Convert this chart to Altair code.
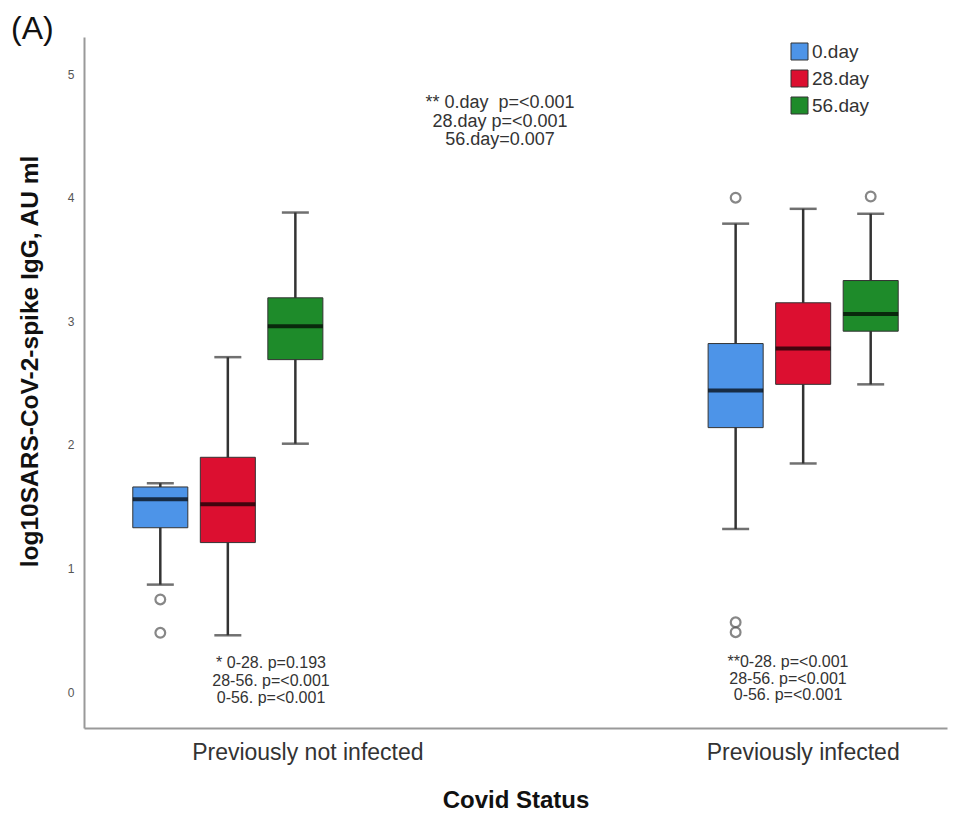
import altair as alt
import pandas as pd

groups = ["Previously not infected", "Previously infected"]
series = ["0.day", "28.day", "56.day"]
colors = ["#4d94e8", "#dc0f30", "#1e8b2a"]

box_group = ["Previously not infected"] * 3 + ["Previously infected"] * 3
box_day = ["0.day", "28.day", "56.day"] * 2
q1 = [1.33, 1.21, 2.69, 2.14, 2.49, 2.92]
median = [1.56, 1.52, 2.96, 2.44, 2.78, 3.06]
q3 = [1.66, 1.90, 3.19, 2.82, 3.15, 3.33]
whisker_low = [0.87, 0.46, 2.01, 1.32, 1.85, 2.49]
whisker_high = [1.69, 2.71, 3.88, 3.79, 3.91, 3.87]

out_group = ["Previously not infected", "Previously not infected",
             "Previously infected", "Previously infected", "Previously infected",
             "Previously infected"]
out_day = ["0.day", "0.day", "0.day", "0.day", "0.day", "56.day"]
out_value = [0.75, 0.48, 4.00, 0.565, 0.485, 4.01]

top_note = ["** 0.day\u00a0\u00a0p=<0.001", "28.day p=<0.001", "56.day=0.007"]
note_not_inf = ["* 0-28. p=0.193", "28-56. p=<0.001", "0-56. p=<0.001"]
note_inf = ["**0-28. p=<0.001", "28-56. p=<0.001", "0-56. p=<0.001"]

FONT = "Liberation Sans"

boxes_df = pd.DataFrame({
    "group": box_group, "day": box_day, "q1": q1, "median": median,
    "q3": q3, "low": whisker_low, "high": whisker_high,
})
out_df = pd.DataFrame({"group": out_group, "day": out_day, "value": out_value})

yscale = alt.Scale(domain=[-0.29, 5.3], nice=False, zero=False)
xscale = alt.Scale(domain=groups, paddingInner=0.5, paddingOuter=0)
xoff = alt.XOffset("day:N", scale=alt.Scale(domain=series, paddingInner=0.185, paddingOuter=0.7225))

xaxis = alt.Axis(
    title="Covid Status", labelAngle=0, ticks=False, grid=False,
    domainColor="#999", domainWidth=2, labelLimit=0,
    labelFont=FONT, labelFontSize=23, labelColor="#333", labelPadding=13,
    labelOffset=alt.condition("datum.value == 'Previously not infected'", alt.value(80), alt.value(0)),
    titleFont=FONT, titleFontSize=24, titleFontWeight="bold", titleColor="#111",
    titlePadding=24,
)
yaxis = alt.Axis(
    title="log10SARS-CoV-2-spike IgG, AU ml", values=[0, 1, 2, 3, 4, 5], format="d",
    ticks=False, grid=False, domainColor="#999", domainWidth=2,
    labelFont=FONT, labelFontSize=12, labelColor="#555", labelPadding=10,
    titleFont=FONT, titleFontSize=24.5, titleFontWeight="bold", titleColor="#111",
    titleX=-54, titleY=324, titleBaseline="middle", titleAlign="center", titleAngle=-90,
)

base = alt.Chart(boxes_df).encode(
    x=alt.X("group:N", sort=groups, scale=xscale, axis=xaxis),
    xOffset=xoff,
)

whisk = base.mark_rule(color="#333", strokeWidth=2.5).encode(
    y=alt.Y("low:Q", scale=yscale, axis=yaxis), y2="high:Q"
)
boxes = base.mark_bar(stroke="#333", strokeWidth=1).encode(
    y="q1:Q", y2="q3:Q",
    color=alt.Color("day:N", scale=alt.Scale(domain=series, range=colors),
                    legend=alt.Legend(title=None, orient="none", legendX=706, legendY=5,
                                      symbolType="square", symbolSize=289,
                                      symbolStrokeColor="#333", symbolStrokeWidth=1,
                                      labelFont=FONT, labelFontSize=19, labelColor="#333",
                                      labelOffset=3, rowPadding=6)),
)
med = base.mark_tick(color="black", thickness=4, size=55, orient="horizontal").encode(y="median:Q")
cap_hi = base.mark_tick(color="#333", thickness=2.5, size=27, orient="horizontal").encode(y="high:Q")
cap_lo = base.mark_tick(color="#333", thickness=2.5, size=27, orient="horizontal").encode(y="low:Q")

outl = alt.Chart(out_df).mark_point(shape="circle", filled=False, color="#555", strokeWidth=2.2, size=95).encode(
    x=alt.X("group:N", sort=groups, scale=xscale),
    xOffset=xoff,
    y=alt.Y("value:Q", scale=yscale),
)

one = pd.DataFrame({"k": [0]})
t_top = alt.Chart(one).mark_text(font=FONT, fontSize=18, color="#333", align="center",
                                 baseline="top", lineHeight=18.5).encode(
    x=alt.value(416), y=alt.value(57), text=alt.value(top_note))
t_1 = alt.Chart(one).mark_text(font=FONT, fontSize=16, color="#333", align="center",
                               baseline="top", lineHeight=17.5).encode(
    x=alt.value(187), y=alt.value(618), text=alt.value(note_not_inf))
t_2 = alt.Chart(one).mark_text(font=FONT, fontSize=16, color="#333", align="center",
                               baseline="top", lineHeight=16.5).encode(
    x=alt.value(704), y=alt.value(617), text=alt.value(note_inf))
t_A = alt.Chart(one).mark_text(font=FONT, fontSize=32, color="#111", align="left",
                               baseline="alphabetic").encode(
    x=alt.value(-73), y=alt.value(2), text=alt.value("(A)"))

chart = alt.layer(whisk, boxes, med, cap_hi, cap_lo, outl, t_top, t_1, t_2, t_A).properties(
    width=863, height=691,
    padding={"left": 76, "top": 29, "right": 8, "bottom": 90},
    autosize="none",
).configure_view(stroke=None)

chart.save("out.html", embed_options={"renderer": "svg", "actions": False})
